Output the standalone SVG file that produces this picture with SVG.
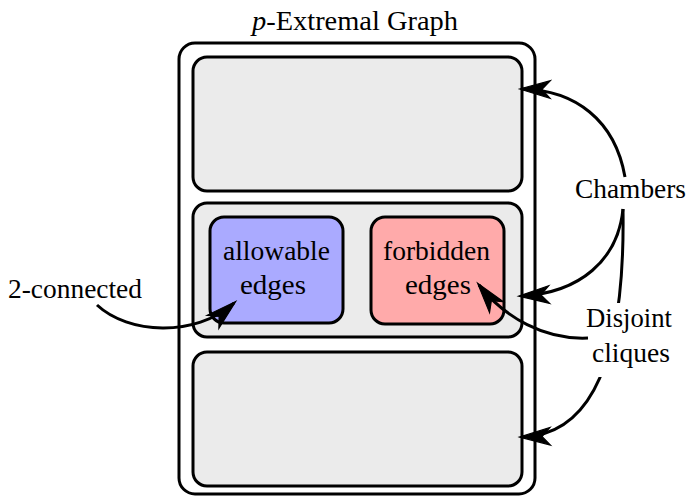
<svg xmlns="http://www.w3.org/2000/svg" width="690" height="497" viewBox="0 0 690 497">
<style>
.box{stroke:#000;stroke-width:3}
.chamber{fill:#ebebeb}
.conn{fill:none;stroke:#000;stroke-width:3}
.t{font-family:'Liberation Serif','Times New Roman',Times,serif;font-size:27px;fill:#000}
</style>
<defs>
<marker id="stealth" markerUnits="userSpaceOnUse" markerWidth="40" markerHeight="40" refX="0" refY="0" viewBox="-30 -12 34 24" orient="auto" overflow="visible">
<path d="M2,0 L-24,-7.5 L-17,0 L-24,7.5 Z" fill="#000" stroke="#000" stroke-width="1" stroke-linejoin="miter"/>
</marker>
</defs>
<g id="title"><text class="t" x="252" y="30" textLength="206" lengthAdjust="spacingAndGlyphs"><tspan font-style="italic">p</tspan>-Extremal Graph</text></g>
<g id="outer"><rect class="box" x="179" y="43" width="356" height="451" rx="16" fill="#fff"/></g>
<g id="chamber1"><rect class="box chamber" x="193" y="57" width="329" height="134" rx="14"/></g>
<g id="chamber2"><rect class="box chamber" x="193" y="203" width="329" height="134" rx="14"/></g>
<g id="chamber3"><rect class="box chamber" x="193" y="352" width="329" height="134" rx="14"/></g>
<g id="allowable">
<rect class="box" x="210" y="217" width="133" height="106" rx="14" fill="#aaaaff"/>
<text class="t" x="223" y="260" textLength="107" lengthAdjust="spacingAndGlyphs">allowable</text>
<text class="t" x="240" y="294" textLength="66" lengthAdjust="spacingAndGlyphs">edges</text>
</g>
<g id="forbidden">
<rect class="box" x="371" y="217" width="133" height="107" rx="14" fill="#ffaaaa"/>
<text class="t" x="383" y="260" textLength="107" lengthAdjust="spacingAndGlyphs">forbidden</text>
<text class="t" x="405" y="294" textLength="66" lengthAdjust="spacingAndGlyphs">edges</text>
</g>
<g id="connectors">
<path class="conn" d="M97,305 C128,334 195,338 234,303" marker-end="url(#stealth)"/>
<path class="conn" d="M625,177 C615,120 575,90 522,89" marker-end="url(#stealth)"/>
<path class="conn" d="M623,209 C618,260 580,293 521,296" marker-end="url(#stealth)"/>
<path class="conn" d="M623,209 C625,340 600,435 522,437" marker-end="url(#stealth)"/>
<path class="conn" d="M588,338 C545,340 505,318 479,285" marker-end="url(#stealth)"/>
</g>
<g id="label-2connected"><text class="t" x="8" y="298" textLength="134" lengthAdjust="spacingAndGlyphs">2-connected</text></g>
<g id="label-chambers"><text class="t" x="575" y="198" textLength="111" lengthAdjust="spacingAndGlyphs">Chambers</text></g>
<g id="label-disjoint">
<rect x="589" y="303" width="89" height="74" fill="#fff"/>
<text class="t" x="586" y="327" textLength="86" lengthAdjust="spacingAndGlyphs">Disjoint</text>
<text class="t" x="592" y="362" textLength="78" lengthAdjust="spacingAndGlyphs">cliques</text>
</g>
</svg>
